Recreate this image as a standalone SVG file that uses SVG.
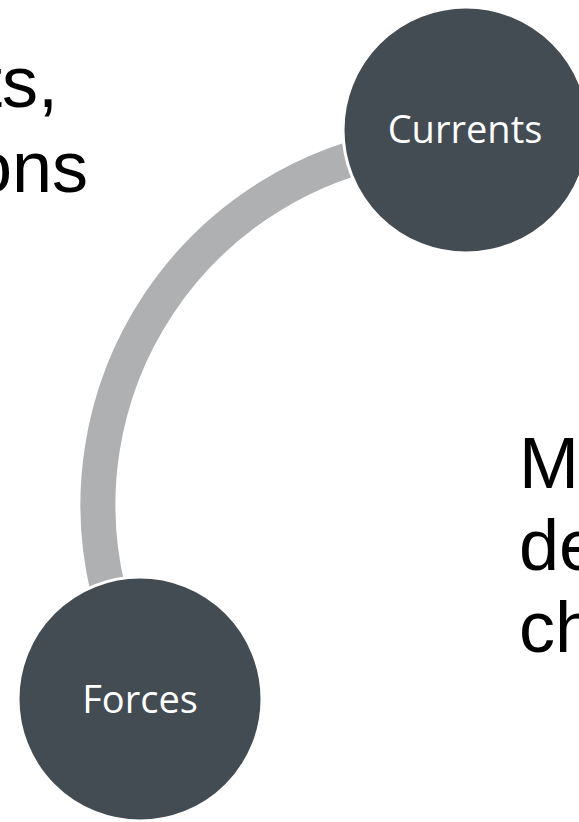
<svg xmlns="http://www.w3.org/2000/svg" width="579" height="822" viewBox="0 0 579 822">
  <style>
    .node { fill: #434B53; stroke: #FFFFFF; stroke-width: 3; }
    .label { font-family: "Open Sans", "Noto Sans", sans-serif; font-size: 38px; fill: #FFFFFF; text-anchor: middle; }
    .big { font-family: "Liberation Sans", Arial, sans-serif; font-size: 72px; fill: #000000; }
    .conn { fill: none; stroke: #AFB0B2; stroke-width: 35; stroke-linecap: butt; }
  </style>
  <rect width="579" height="822" fill="#FFFFFF"/>
  <g id="text-left">
    <text class="big" x="58" y="107" text-anchor="end">ts,</text>
    <text class="big" x="88" y="192" text-anchor="end">ons</text>
  </g>
  <g id="text-right">
    <text class="big" x="519" y="488">M</text>
    <text class="big" x="519" y="570">de</text>
    <text class="big" x="519" y="652">ch</text>
  </g>
  <g id="connectors">
    <path class="conn" d="M 401 147 A 363 363 0 0 0 108 590"/>
  </g>
  <g id="node-currents">
    <circle class="node" cx="466" cy="130" r="123"/>
    <text class="label" x="465" y="143">Currents</text>
  </g>
  <g id="node-forces">
    <circle class="node" cx="140" cy="699" r="122"/>
    <text class="label" x="140" y="713">Forces</text>
  </g>
</svg>
